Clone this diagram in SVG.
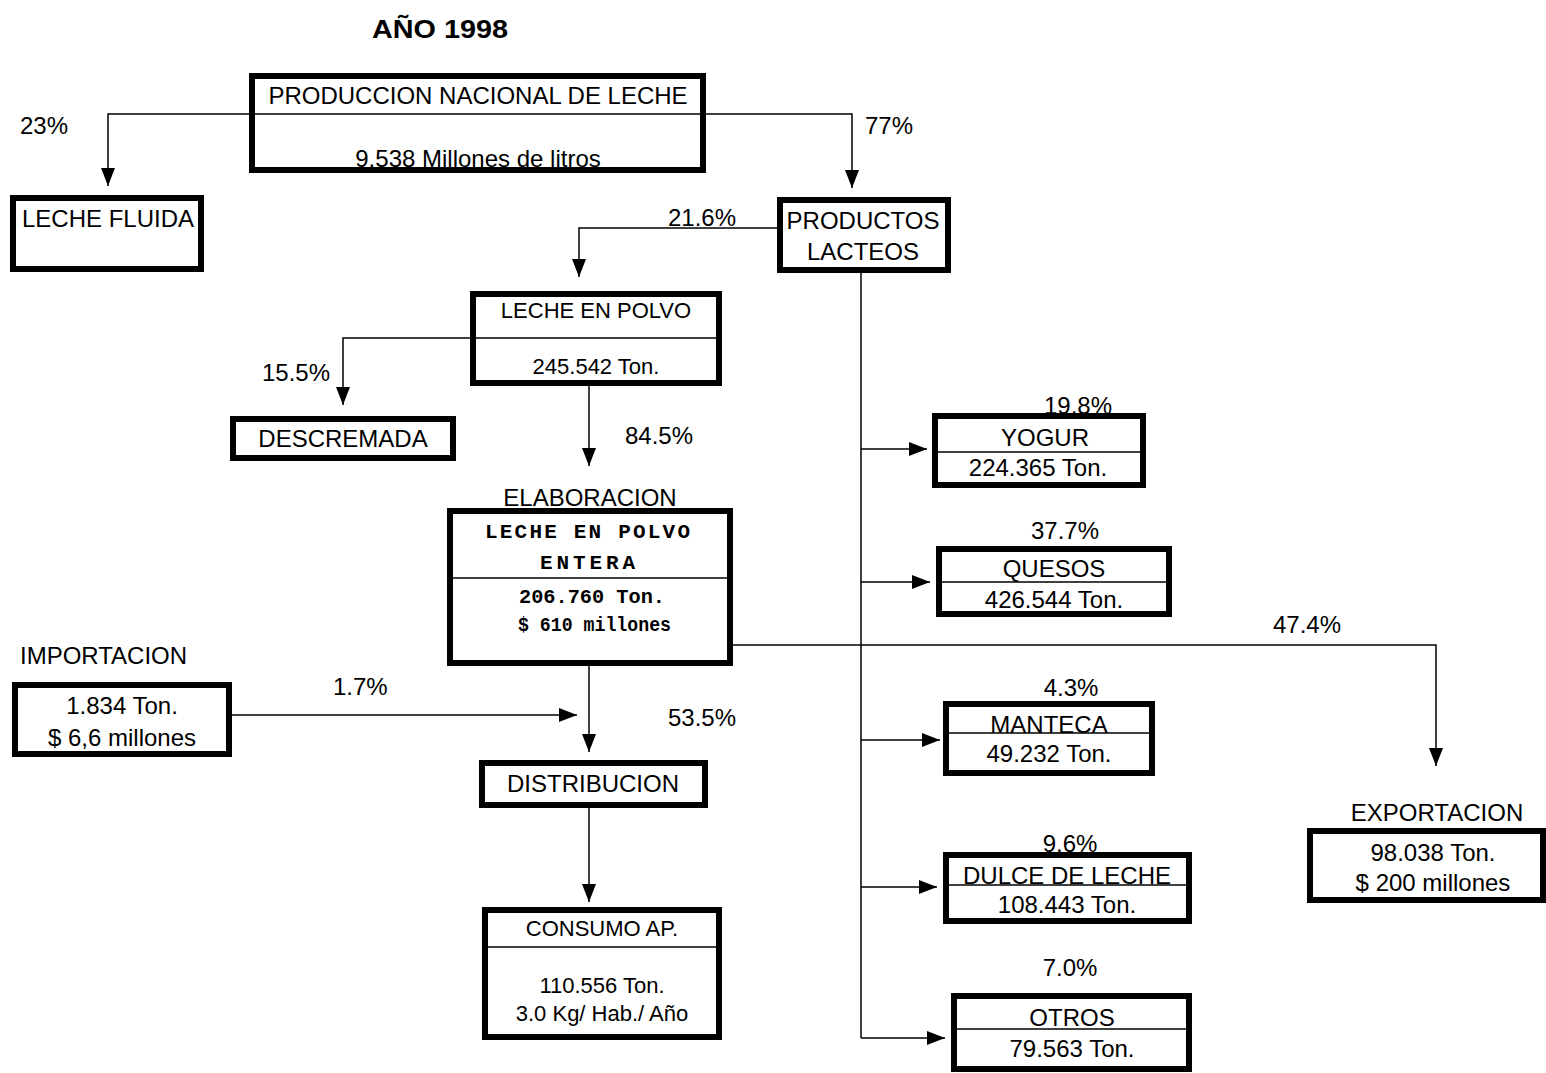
<svg xmlns="http://www.w3.org/2000/svg" width="1546" height="1073" viewBox="0 0 1546 1073">
<defs>
<marker id="ah" viewBox="0 0 18 14" refX="18" refY="7" markerWidth="18" markerHeight="14" markerUnits="userSpaceOnUse" orient="auto">
<path d="M0,0 L18,7 L0,14 z" fill="#000"/>
</marker>
<style>
.box{fill:#fff;stroke:#000;stroke-width:6}
.div{stroke:#000;stroke-width:1.5;fill:none}
.c{stroke:#000;stroke-width:1.5;fill:none}
.a{marker-end:url(#ah)}
text{font-family:"Liberation Sans",Arial,sans-serif;font-size:24px;fill:#000}
.m{text-anchor:middle}
.s{font-size:22px}
.cour{font-family:"Liberation Mono","Courier New",monospace;font-weight:bold;font-size:21px}
.title{font-weight:bold;font-size:25px}
</style>
</defs>
<rect width="1546" height="1073" fill="#fff"/>
<text class="title" x="372" y="38" textLength="136" lengthAdjust="spacingAndGlyphs">AÑO 1998</text>

<g id="connectors">
<path class="c a" d="M249,114 H108 V186"/>
<path class="c a" d="M706,114 H852 V188"/>
<path class="c a" d="M777,228 H579 V277"/>
<path class="c a" d="M470,338 H343 V405"/>
<path class="c a" d="M589,386 V466"/>
<path class="c a" d="M589,664 V752"/>
<path class="c a" d="M232,715 H577"/>
<path class="c a" d="M589,808 V902"/>
<path class="c a" d="M733,645 H1436 V766"/>
<path class="c" d="M861,273 V1038"/>
<path class="c a" d="M861,449 H927"/>
<path class="c a" d="M861,582 H930"/>
<path class="c a" d="M861,740 H940"/>
<path class="c a" d="M861,887 H937"/>
<path class="c a" d="M861,1038 H945"/>
<text x="20" y="134">23%</text>
<text x="865" y="134">77%</text>
<text x="668" y="226">21.6%</text>
<text x="262" y="381">15.5%</text>
<text x="625" y="444">84.5%</text>
<text x="333" y="695">1.7%</text>
<text x="668" y="726">53.5%</text>
<text x="1273" y="633">47.4%</text>
</g>

<g id="produccion">
<rect class="box" x="252" y="76" width="451" height="94"/>
<line class="div" x1="255" y1="114" x2="700" y2="114"/>
<text class="m" x="478" y="104">PRODUCCION NACIONAL DE LECHE</text>
<text class="m" x="478" y="167">9.538 Millones de litros</text>
</g>

<g id="leche-fluida">
<rect class="box" x="13" y="198" width="188" height="71"/>
<text x="22" y="227">LECHE FLUIDA</text>
</g>

<g id="productos-lacteos">
<rect class="box" x="780" y="200" width="168" height="70"/>
<text class="m" x="863" y="229">PRODUCTOS</text>
<text class="m" x="863" y="260">LACTEOS</text>
</g>

<g id="leche-en-polvo">
<rect class="box" x="473" y="294" width="246" height="89"/>
<line class="div" x1="476" y1="338" x2="716" y2="338"/>
<text class="m s" x="596" y="318">LECHE EN POLVO</text>
<text class="m s" x="596" y="374">245.542 Ton.</text>
</g>

<g id="descremada">
<rect class="box" x="233" y="419" width="220" height="39"/>
<text class="m" x="343" y="447">DESCREMADA</text>
</g>

<g id="elaboracion">
<text class="m" x="590" y="506">ELABORACION</text>
<rect class="box" x="450" y="511" width="280" height="152"/>
<line class="div" x1="453" y1="578" x2="727" y2="578"/>
<text class="cour" x="485" y="538" textLength="205" lengthAdjust="spacing">LECHE EN POLVO</text>
<text class="cour" x="540" y="569" textLength="95" lengthAdjust="spacing">ENTERA</text>
<text class="cour" x="519" y="603" textLength="146" lengthAdjust="spacingAndGlyphs">206.760 Ton.</text>
<text class="cour" x="518" y="631" textLength="153" lengthAdjust="spacingAndGlyphs">$ 610 millones</text>
</g>

<g id="importacion">
<text x="20" y="664">IMPORTACION</text>
<rect class="box" x="15" y="685" width="214" height="69"/>
<text class="m" x="122" y="714">1.834 Ton.</text>
<text class="m" x="122" y="746">$ 6,6 millones</text>
</g>

<g id="distribucion">
<rect class="box" x="482" y="763" width="223" height="42"/>
<text class="m" x="593" y="792">DISTRIBUCION</text>
</g>

<g id="consumo">
<rect class="box" x="485" y="910" width="234" height="127"/>
<line class="div" x1="488" y1="947" x2="716" y2="947"/>
<text class="m s" x="602" y="936">CONSUMO AP.</text>
<text class="m s" x="602" y="993">110.556 Ton.</text>
<text class="m s" x="602" y="1021">3.0 Kg/ Hab./ Año</text>
</g>

<g id="yogur">
<text class="m" x="1078" y="414">19.8%</text>
<rect class="box" x="935" y="416" width="208" height="69"/>
<line class="div" x1="938" y1="452" x2="1140" y2="452"/>
<text class="m" x="1045" y="446">YOGUR</text>
<text class="m" x="1038" y="476">224.365 Ton.</text>
</g>

<g id="quesos">
<text class="m" x="1065" y="539">37.7%</text>
<rect class="box" x="939" y="549" width="230" height="65"/>
<line class="div" x1="942" y1="582" x2="1166" y2="582"/>
<text class="m" x="1054" y="577">QUESOS</text>
<text class="m" x="1054" y="608">426.544 Ton.</text>
</g>

<g id="manteca">
<text class="m" x="1071" y="696">4.3%</text>
<rect class="box" x="946" y="704" width="206" height="69"/>
<line class="div" x1="949" y1="733" x2="1149" y2="733"/>
<text class="m" x="1049" y="733">MANTECA</text>
<text class="m" x="1049" y="762">49.232 Ton.</text>
</g>

<g id="dulce-de-leche">
<text class="m" x="1070" y="852">9.6%</text>
<rect class="box" x="946" y="855" width="243" height="66"/>
<line class="div" x1="949" y1="885" x2="1186" y2="885"/>
<text class="m" x="1067" y="884">DULCE DE LECHE</text>
<text class="m" x="1067" y="913">108.443 Ton.</text>
</g>

<g id="otros">
<text class="m" x="1070" y="976">7.0%</text>
<rect class="box" x="954" y="996" width="235" height="73"/>
<line class="div" x1="957" y1="1029" x2="1186" y2="1029"/>
<text class="m" x="1072" y="1026">OTROS</text>
<text class="m" x="1072" y="1057">79.563 Ton.</text>
</g>

<g id="exportacion">
<text class="m" x="1437" y="821">EXPORTACION</text>
<rect class="box" x="1310" y="831" width="233" height="69"/>
<text class="m" x="1433" y="861">98.038 Ton.</text>
<text class="m" x="1433" y="891">$ 200 millones</text>
</g>
</svg>
